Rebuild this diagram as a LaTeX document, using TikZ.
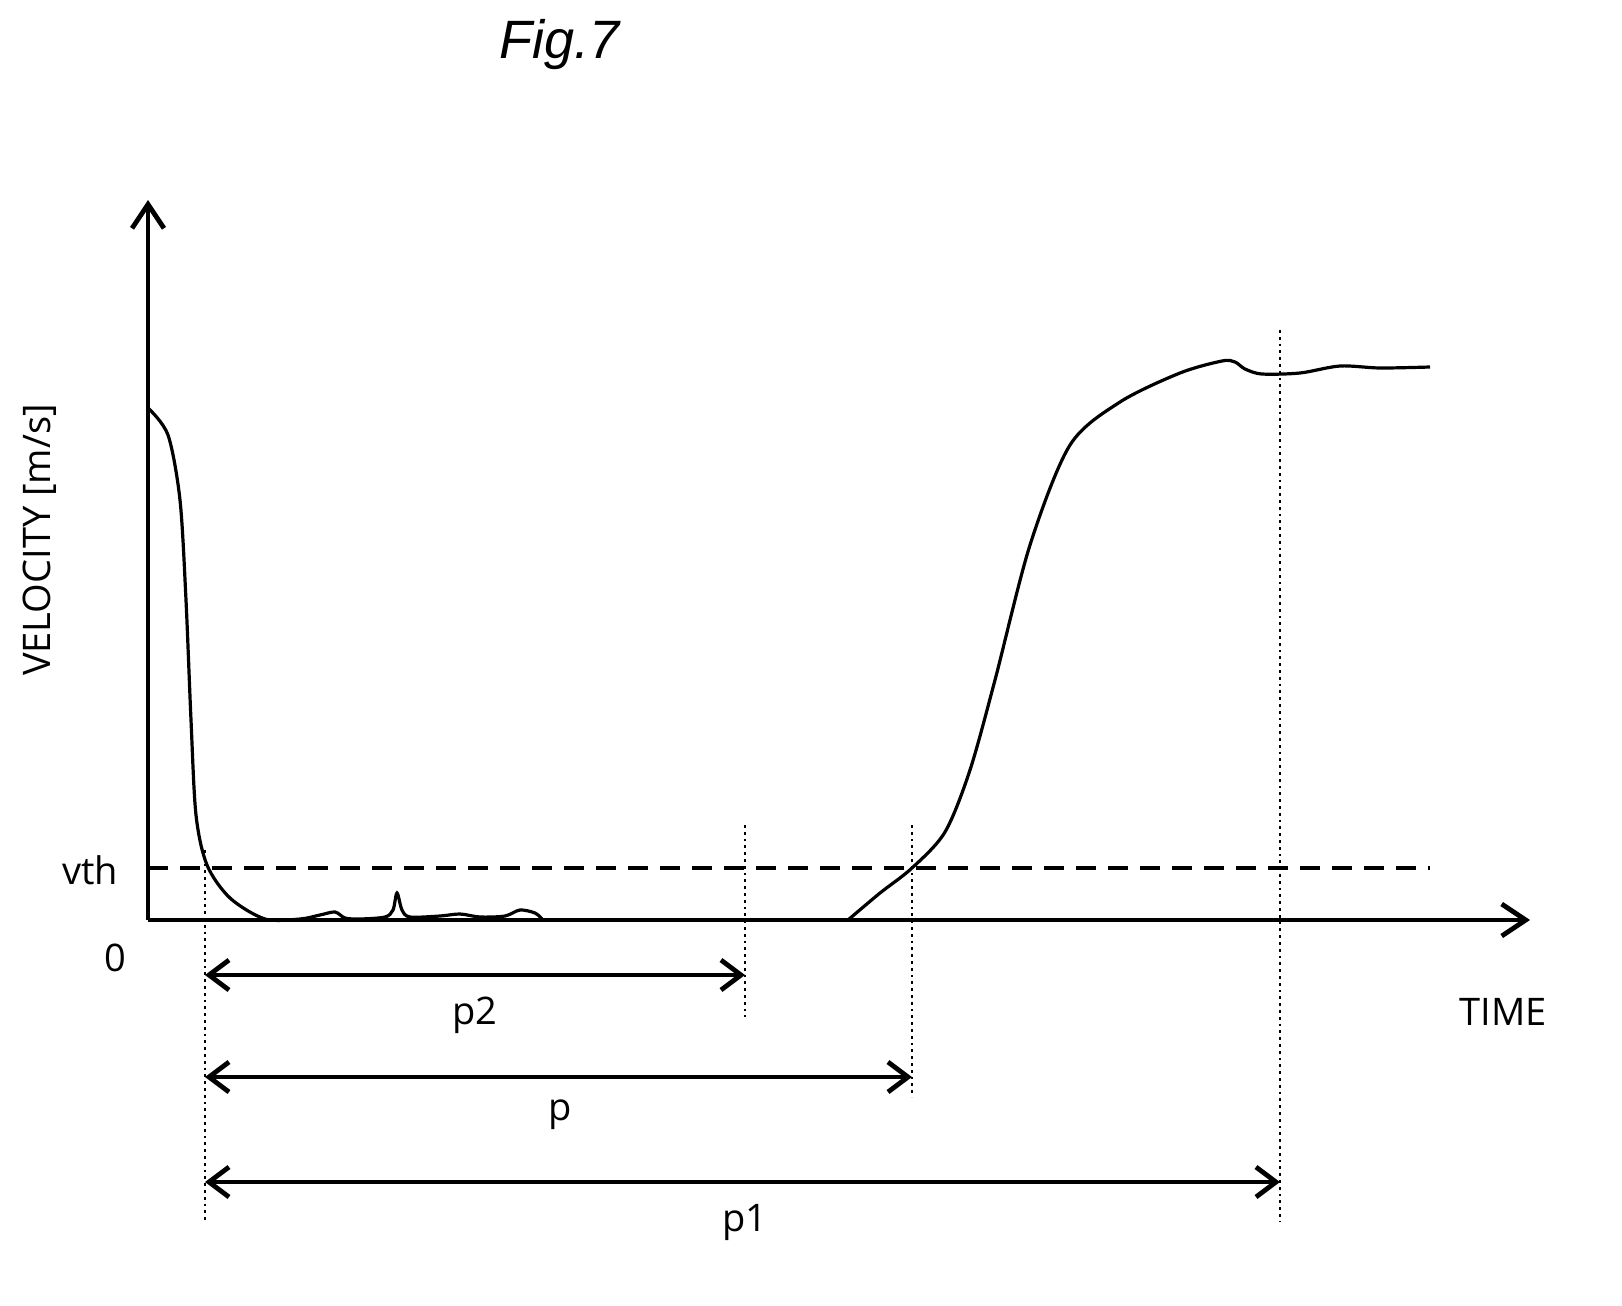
\documentclass[tikz,border=0pt]{standalone}
\usepackage{fontspec}
\setmainfont{Open Sans}
\newfontfamily\titlefont{Liberation Sans}
\usetikzlibrary{arrows.meta}
\begin{document}
\begin{tikzpicture}[x=0.5pt,y=-0.5pt,
  lbl/.style={font=\fontsize{19}{22}\selectfont, inner sep=0pt},
  axis/.style={line width=1.6pt,-{Straight Barb[length=12pt,width=16pt,line width=2.4pt]}},
  dim/.style={line width=1.6pt,{Straight Barb[length=10pt,width=15pt,line width=2.4pt]}-{Straight Barb[length=10pt,width=15pt,line width=2.4pt]}},
  vdot/.style={line width=1.4pt,dotted},
  curve/.style={line width=1.6pt}]
\useasboundingbox (0,0) rectangle (1622,1306);
\node[font=\titlefont\fontsize{27}{32}\selectfont\itshape] (title) at (560,45) {Fig.7};
\coordinate (o) at (148,920);
\coordinate (ytop) at (148,200);
\coordinate (xend) at (1530,920);
\draw[axis] (o) -- (ytop);
\draw[axis] (o) -- (xend);
\node[lbl,rotate=90] (vel) at (40,540) {VELOCITY [m/s]};
\node[lbl] (vth) at (90,870) {vth};
\node[lbl] (zero) at (115,958) {0};
\node[lbl] (time) at (1503,1012) {TIME};
\coordinate (d1) at (148,868); \coordinate (d2) at (1430,868);
\draw[line width=1.6pt,dash pattern=on 10pt off 6pt] (d1) -- (d2);
\coordinate (a1) at (205,850); \coordinate (a2) at (205,1222);
\coordinate (b1) at (745,825); \coordinate (b2) at (745,1017);
\coordinate (c1) at (912,825); \coordinate (c2) at (912,1097);
\coordinate (e1) at (1280,330); \coordinate (e2) at (1280,1222);
\draw[vdot] (a1)--(a2); \draw[vdot] (b1)--(b2); \draw[vdot] (c1)--(c2); \draw[vdot] (e1)--(e2);
\coordinate (p2s) at (205,975); \coordinate (p2e) at (745,975);
\coordinate (ps) at (205,1077); \coordinate (pe) at (912,1077);
\coordinate (p1s) at (205,1182); \coordinate (p1e) at (1280,1182);
\draw[dim] (p2s)--(p2e); \draw[dim] (ps)--(pe); \draw[dim] (p1s)--(p1e);
\node[lbl] (lp2) at (475,1015) {p2};
\node[lbl] (lp) at (560,1115) {p};
\node[lbl] (lp1) at (745,1222) {p1};
\draw[curve] plot[smooth,tension=0.5] coordinates {(148,408) (168,435) (180,500) (186,600) (191,720) (196,815) (207,865) (230,898) (265,919) (300,919) (320,915) (335,912) (345,918) (360,919) (385,917) (393,910) (397,893) (402,910) (410,917) (440,916) (460,914) (480,917) (505,916) (520,910) (535,913) (542,919)};
\draw[curve] plot[smooth,tension=0.5] coordinates {(848,920) (880,893) (912,868) (945,832) (970,770) (995,680) (1030,545) (1070,445) (1120,402) (1180,373) (1222,361) (1235,362) (1245,369) (1262,374) (1300,373) (1340,366) (1380,368) (1430,367)};
\end{tikzpicture}
\end{document}
